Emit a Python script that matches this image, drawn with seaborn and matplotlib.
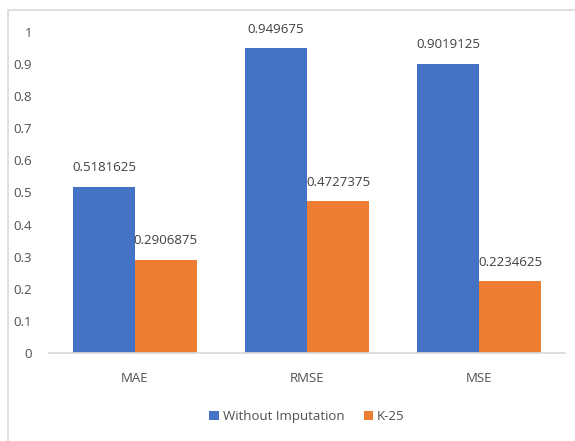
import matplotlib
matplotlib.use("Agg")
import matplotlib.pyplot as plt
import seaborn as sns
import pandas as pd
from matplotlib.patches import Rectangle

metrics = ["MAE", "RMSE", "MSE"]
without_imputation = [0.5181625, 0.949675, 0.9019125]
k25 = [0.2906875, 0.4727375, 0.2234625]
series_names = ["Without Imputation", "K-25"]
colors = ["#4472C4", "#ED7D31"]

df = pd.DataFrame({
    "metric": metrics * 2,
    "value": without_imputation + k25,
    "series": [series_names[0]] * 3 + [series_names[1]] * 3,
})

sns.set_theme(style="white")
plt.rcParams["font.family"] = ["Open Sans", "DejaVu Sans"]

fig = plt.figure(figsize=(5.75, 4.41), dpi=100)
ax = fig.add_axes([0.085, 0.2, 0.898, 0.727])

sns.barplot(data=df, x="metric", y="value", hue="series", palette=colors,
            width=0.72, gap=0, ax=ax, saturation=1, linewidth=0, legend=True)

for cont in ax.containers:
    ax.bar_label(cont, labels=[str(v) for v in cont.datavalues], padding=9,
                 fontsize=9.5, color="#404040")

ax.set_ylim(0, 1)
ax.set_yticks([i / 10 for i in range(11)])
ax.set_yticklabels(["0", "0.1", "0.2", "0.3", "0.4", "0.5", "0.6", "0.7", "0.8", "0.9", "1"])
ax.set_xlabel("")
ax.set_ylabel("")
ax.tick_params(axis="both", length=0, labelsize=9.5, labelcolor="#505050")
ax.tick_params(axis="y", pad=12)
ax.tick_params(axis="x", pad=14)
for s in ["top", "right", "left"]:
    ax.spines[s].set_visible(False)
ax.spines["bottom"].set_color("#d9d9d9")
ax.grid(False)

handles, labs = ax.get_legend_handles_labels()
ax.legend(handles, labs, loc="center", bbox_to_anchor=(0.5, -0.2), ncol=2,
          frameon=False, fontsize=9.5, handlelength=0.7, handleheight=0.7,
          handletextpad=0.3, columnspacing=1.5, labelcolor="#505050")

fig.patches.append(Rectangle((8 / 575, -0.1), 2.0, 1 - 10 / 441 + 0.1,
                             transform=fig.transFigure, fill=False,
                             edgecolor="#d9d9d9", linewidth=1.2))

fig.savefig("out.png", dpi=100)
